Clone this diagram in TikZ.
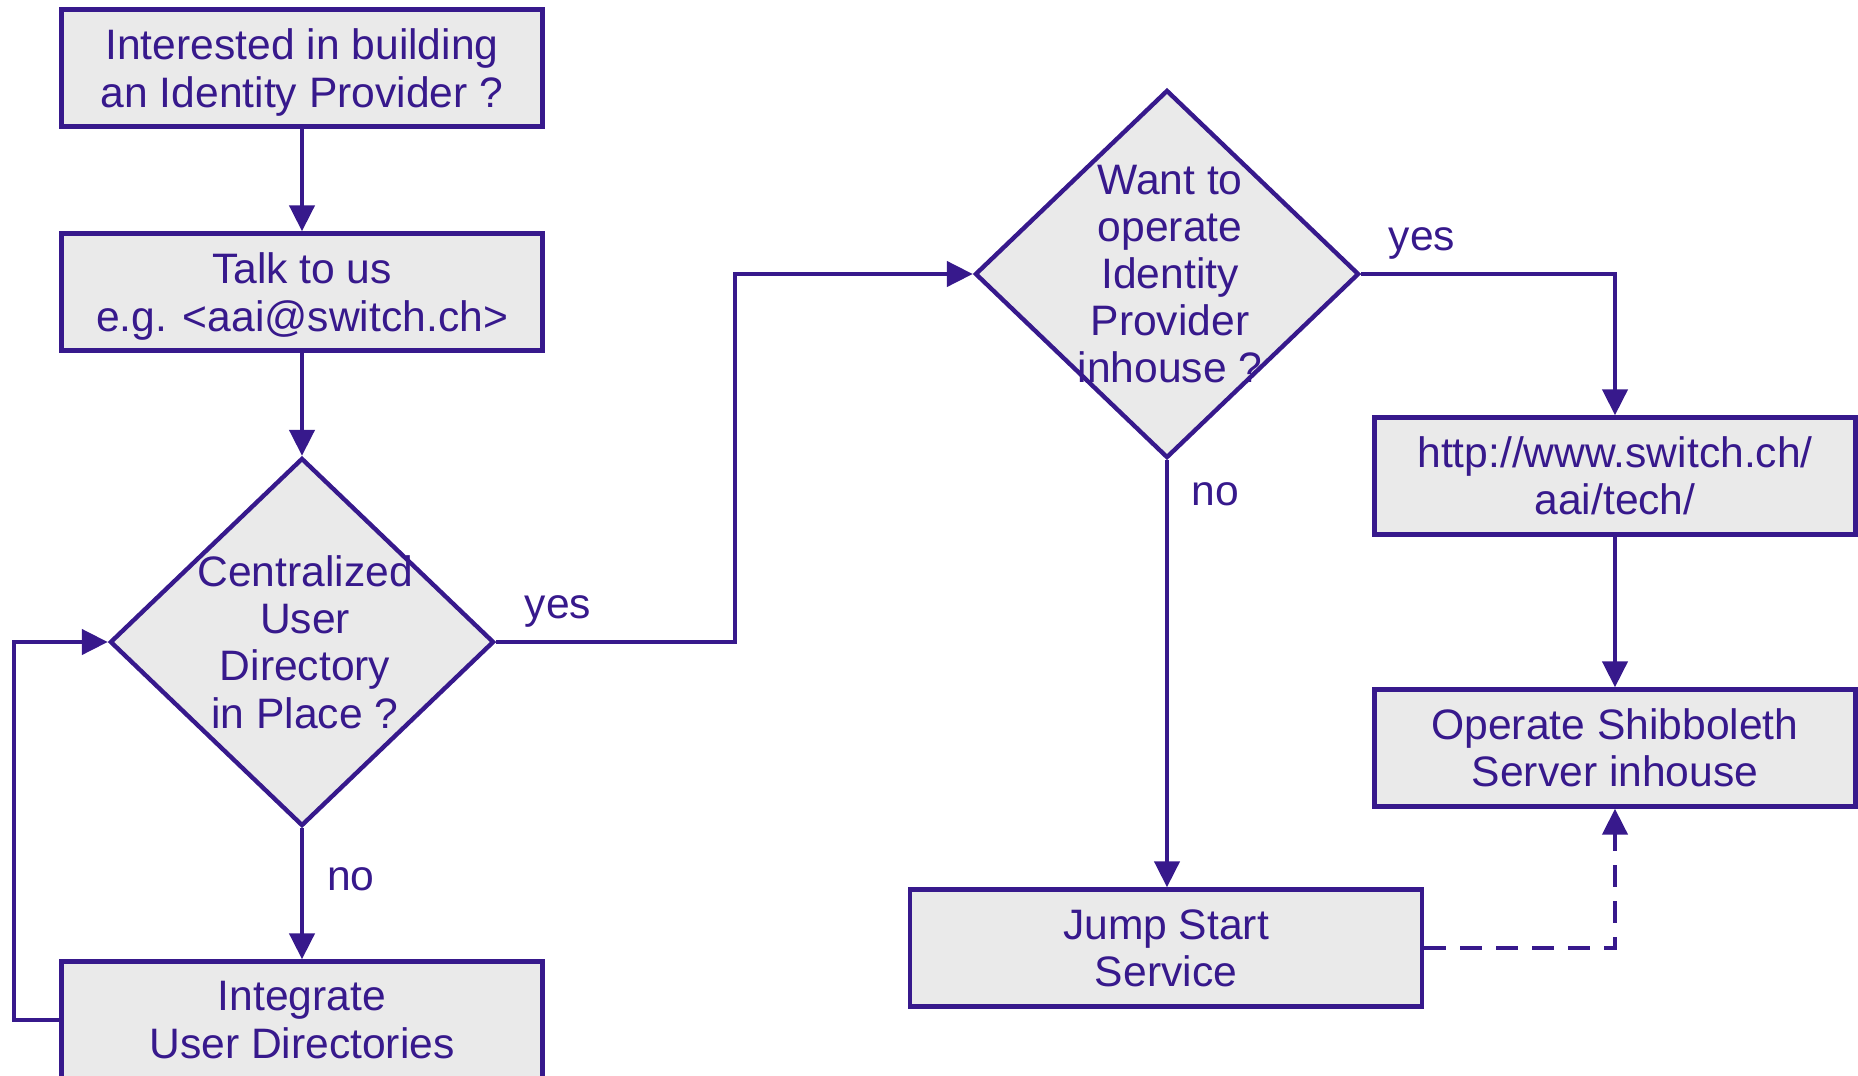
\documentclass[tikz,border=0pt]{standalone}
\usepackage{fontspec}
\setmainfont{Liberation Sans}
\usetikzlibrary{shapes.geometric,arrows.meta}
\definecolor{ink}{RGB}{55,25,140}
\definecolor{boxfill}{RGB}{234,234,234}
\begin{document}
\begin{tikzpicture}[x=0.5pt,y=-0.5pt,
  every node/.style={text=ink,font=\fontsize{21.3pt}{23.6pt}\selectfont},
  box/.style={draw=ink,fill=boxfill,line width=2.2pt,rectangle,minimum width=240.5pt,minimum height=58.5pt,inner sep=0pt,align=center},
  dia/.style={draw=ink,fill=boxfill,line width=2.2pt,diamond,minimum width=192pt,minimum height=184pt,inner sep=0pt},
  txt/.style={align=center,inner sep=0pt},
  lbl/.style={inner sep=0pt},
  conn/.style={draw=ink,line width=2.2pt,-{Triangle[length=13pt,width=12.5pt]}},
  dconn/.style={conn,dash pattern=on 11pt off 7pt}
]
\useasboundingbox (0,0) rectangle (1858,1076);

\node[box] (b1) at (302,68) {Interested in building\\\smash{an Identity Provider ?}};
\node[box] (b2) at (302,292) {Talk to us\\\smash{e.g. <aai@switch.ch>}};
\node[dia] (d1) at (302,642) {};
\node[txt] (d1t) at (305,642) {Centralized\\User\\Directory\\in Place ?};
\node[box] (b4) at (302,1020) {Integrate\\User Directories};

\node[dia] (d2) at (1167,274) {};
\node[txt] (d2t) at (1170,274) {Want to\\operate\\Identity\\Provider\\inhouse ?};
\node[box] (b5) at (1615,476) {http://www.switch.ch/\\aai/tech/};
\node[box] (b6) at (1615,748) {Operate Shibboleth\\Server inhouse};
\node[box,minimum width=256pt] (b7) at (1166,948) {Jump Start\\Service};

\node[lbl] (yes1) at (558,611) {yes};
\node[lbl] (no1) at (351,879) {no};
\node[lbl] (yes2) at (1422,243) {yes};
\node[lbl] (no2) at (1215,494) {no};

\coordinate (lp) at (14,1020);
\coordinate (j1) at (735,642);

\draw[conn] (b1) -- (b2);
\draw[conn] (b2) -- (d1);
\draw[conn] (d1) -- (b4);
\draw[conn] (b4.west) -- (lp) |- (d1.west);
\draw[conn] (d1.east) -- (j1) |- (d2.west);
\draw[conn] (d2.east) -| (b5.north);
\draw[conn] (b5) -- (b6);
\draw[conn] (d2.south) -- (d2.south |- b7.north);
\draw[dconn] (b7.east) -| (b6.south);
\end{tikzpicture}
\end{document}
